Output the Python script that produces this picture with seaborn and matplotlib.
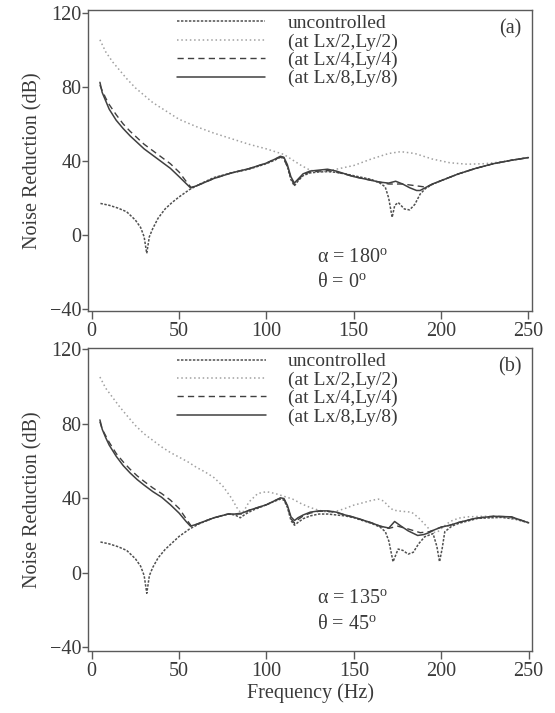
import numpy as np
import pandas as pd
import matplotlib
matplotlib.use("Agg")
import matplotlib.pyplot as plt
import seaborn as sns

# ---------------- data ----------------
labels = ["uncontrolled", "(at Lx/2,Ly/2)", "(at Lx/4,Ly/4)", "(at Lx/8,Ly/8)"]
xticks = [0, 50, 100, 150, 200, 250]
yticks = [-40, 0, 40, 80, 120]

# panel (a)  alpha=180, theta=0
a_unc_f = [5, 10, 15, 20, 25, 28, 30, 31.5, 33, 35, 38, 42, 46, 50, 56, 62, 70, 80, 90, 100, 105, 108, 110, 112, 114,
           116, 118, 121, 125, 130, 135, 140, 145, 150, 155, 160, 165, 168, 170, 172, 173.5, 175.5, 179, 182, 185,
           188, 191, 195, 200, 210, 220, 230, 240, 250]
a_unc_v = [17, 16, 14.5, 12.5, 8, 4, -1, -10, -1, 3.5, 9, 14, 17.5, 20.5, 24.5, 27.5, 31, 33.5, 35.5, 38.5, 40.5, 42,
           41.5, 37, 30, 26.5, 29, 32, 33.5, 34, 34.2, 33.8, 33, 32, 31, 30, 28, 26, 20, 9.5, 16, 17.5, 14, 13.5, 16.5,
           22, 25, 27.3, 29.3, 33, 36, 38.5, 40.3, 41.8]
a_l2_f = [4.7, 8, 12, 16, 20, 25, 30, 35, 40, 45, 50, 60, 70, 80, 90, 100, 110, 115, 120, 125, 130, 135, 140, 150, 160,
          170, 177, 185, 195, 205, 215, 225, 235, 245, 250]
a_l2_v = [105.5, 99, 93.5, 89, 84.5, 79.5, 75.5, 71.5, 68.5, 65.5, 62.5, 58.5, 55, 52, 49, 46.5, 43.5, 40.5, 37.5, 35,
          34, 34.5, 35.5, 37.5, 41, 44, 45, 44, 41, 39, 38.2, 38.5, 39.5, 41, 41.8]
a_l4_f = [4.7, 6, 8, 10, 14, 18, 22, 26, 30, 35, 40, 45, 50, 54, 57, 60, 65, 70, 80, 90, 100, 105, 108, 110, 112, 114,
          116, 118, 121, 125, 130, 135, 140, 145, 150, 155, 160, 165, 170, 174, 178, 182, 186, 190, 193, 196, 200,
          210, 220, 230, 240, 250]
a_l4_v = [81, 78, 74, 70.5, 65, 60, 56, 52.5, 49, 45.5, 42, 38.5, 34, 29, 25.5, 26.5, 28.5, 30.5, 33.5, 35.8, 38.8, 41,
          42, 41, 37, 31, 27, 29.5, 32.5, 34, 34.5, 34.8, 34, 32.8, 31.5, 30.5, 29.5, 28.5, 27.5, 27.5, 27.5, 27,
          26.5, 26, 26.5, 27.8, 29.3, 33, 36, 38.5, 40.3, 41.8]
a_l8_f = [4.7, 6, 8, 10, 14, 18, 22, 26, 30, 35, 40, 45, 50, 54, 56.5, 60, 65, 70, 80, 90, 100, 105, 108, 110, 112,
          114, 116, 118, 121, 125, 130, 135, 140, 145, 150, 155, 160, 165, 170, 174, 178, 182, 186, 188, 191, 195,
          200, 210, 220, 230, 240, 250]
a_l8_v = [82.5, 77, 72.5, 68, 62, 57.5, 53.5, 50, 46.5, 43, 39.5, 36, 31.5, 27.8, 25.5, 26.5, 28.5, 30.5, 33.5, 35.8,
          38.8, 41, 42.5, 42, 38, 31.5, 28, 30, 33, 34.5, 35, 35.5, 34.5, 33, 31.5, 30.5, 29.5, 28.5, 28, 29, 27.5,
          25.5, 24, 24, 25.5, 27.5, 29.3, 33, 36, 38.5, 40.3, 41.8]

# panel (b)  alpha=135, theta=45
b_unc_f = [5, 10, 15, 20, 25, 28, 30, 31.5, 33, 35, 38, 42, 46, 50, 56, 62, 70, 78, 82, 85, 88, 92, 100, 105, 108,
           110, 112, 114, 116, 118, 121, 125, 130, 135, 140, 145, 150, 155, 160, 165, 168, 170, 172.4, 175.3, 178,
           181, 184, 187, 190.5, 195.3, 197.5, 199, 200.5, 202, 206, 210, 221, 234.5, 242, 250]
b_unc_v = [16.5, 15.5, 14, 12, 7.5, 3.5, -1.5, -11, -1.5, 3, 8, 12.5, 16, 19.5, 23.5, 26.5, 29.5, 31.5, 31, 29.5, 31.5,
           33.5, 36.5, 38.5, 39.5, 39, 35, 28, 25.5, 27, 29, 30.5, 31.5, 31.5, 31, 30.5, 29.5, 28, 26.5, 24.5, 22,
           17, 5.9, 12.7, 12, 10, 11, 15.5, 19.3, 21, 14, 5.9, 13, 22, 25, 26.5, 29.2, 29.7, 28.8, 26.8]
b_l2_f = [4.7, 8, 12, 16, 20, 25, 30, 35, 40, 45, 50, 55, 60, 65, 70, 75, 80, 83, 85, 87, 90, 95, 100, 105, 110, 115,
          120, 125, 130, 135, 140, 145, 150, 155, 160, 164, 167, 170, 172.5, 177, 183, 187, 191, 195, 198, 201, 205,
          210, 215, 225, 235, 240, 245, 250]
b_l2_v = [105, 99, 94, 89, 84.5, 79, 74.5, 71, 67.5, 64.5, 62, 59.5, 56.5, 54, 51, 46.5, 40, 35, 32.5, 33, 38, 42.5,
          43.5, 42.5, 41, 39.5, 37, 35, 33.5, 32.5, 33, 34.5, 36.3, 37.5, 38.8, 39.5, 38.5, 35.5, 33.6, 33, 32.5,
          29.5, 25.5, 21.5, 22, 24.5, 27.5, 29.3, 30, 30.3, 30, 29.3, 28.3, 26.8]
b_l4_f = [4.7, 6, 8, 10, 14, 18, 22, 26, 30, 35, 40, 45, 50, 54, 57, 60, 65, 70, 78, 82, 86, 90, 100, 105, 108, 110,
          112, 114, 116, 118, 121, 125, 130, 135, 140, 145, 150, 155, 160, 165, 170, 175, 181, 188, 193, 196, 200,
          205, 210, 220, 230, 240, 250]
b_l4_v = [81, 77, 73.5, 70, 64, 59.5, 55.5, 52, 49, 45.5, 42.5, 39, 34.5, 29, 25, 26, 27.8, 29.5, 31.5, 31.5, 31.5,
          33.5, 36.5, 38.8, 40, 39.5, 35.5, 29, 26.5, 28.5, 30.5, 32, 33, 33, 32.3, 31, 29.8, 28.3, 26.8, 25, 23.8,
          25, 23.5, 21.5, 22, 23, 24.5, 25.5, 27, 29.3, 30.3, 30, 26.8]
b_l8_f = [4.7, 6, 8, 10, 14, 18, 22, 26, 30, 35, 40, 45, 50, 54, 56.5, 60, 65, 70, 78, 82, 86, 90, 100, 105, 108, 110,
          112, 114, 116, 118, 121, 125, 130, 135, 140, 145, 150, 155, 160, 165, 170, 173.3, 177, 181, 186.5, 190,
          193, 196, 200, 205, 210, 220, 230, 240, 250]
b_l8_v = [82, 77, 72.5, 68.5, 62.5, 57.5, 53.5, 50, 47, 43.5, 40.5, 36.5, 32, 27.5, 25, 26, 27.8, 29.5, 31.5, 31.5,
          32, 33.5, 36.5, 38.8, 40.2, 39.8, 36, 30, 28, 29.5, 31, 32.5, 33.2, 33.2, 32.5, 31, 29.8, 28.3, 26.8, 25,
          24, 27.5, 25, 22.5, 20, 20.5, 21.5, 23, 24.5, 25.5, 27, 29.3, 30.3, 30, 26.8]

panels = [
    ("(a)", "180", "0",
     [(a_unc_f, a_unc_v), (a_l2_f, a_l2_v), (a_l4_f, a_l4_v), (a_l8_f, a_l8_v)]),
    ("(b)", "135", "45",
     [(b_unc_f, b_unc_v), (b_l2_f, b_l2_v), (b_l4_f, b_l4_v), (b_l8_f, b_l8_v)]),
]

# ---------------- style ----------------
sns.set_style("ticks")
plt.rcParams["font.family"] = ["Liberation Serif", "DejaVu Serif"]
plt.rcParams["mathtext.fontset"] = "custom"
plt.rcParams["mathtext.rm"] = "Liberation Serif"
plt.rcParams["mathtext.it"] = "Liberation Serif:italic"

FS = 14.5
LFS = 14.0
TXT = "#3a3a3a"
AXC = "#5a5a5a"
styles = [
    dict(color="#505050", linestyle=(0, (1.6, 1.0)), linewidth=1.1),
    dict(color="#a0a0a0", linestyle=(0, (1.0, 1.8)), linewidth=1.1),
    dict(color="#404040", linestyle=(0, (4.5, 3.0)), linewidth=1.0),
    dict(color="#404040", linestyle="-", linewidth=1.1),
]

W, H = 555, 713
fig = plt.figure(figsize=(W / 100, H / 100), dpi=100)
fig.patch.set_facecolor("white")

boxes = [
    (88.3 / W, 1 - 310.5 / H, 443.4 / W, 300.5 / H),
    (88.3 / W, 1 - 650.5 / H, 443.7 / W, 302.2 / H),
]
ylims = [(-40.9, 121.6), (-41.7, 120.4)]

for i, (tag, alpha, theta, series) in enumerate(panels):
    ax = fig.add_axes(boxes[i])
    for (f, v), lab, st in zip(series, labels, styles):
        df = pd.DataFrame({"f": f, "v": v})
        sns.lineplot(data=df, x="f", y="v", ax=ax, label=lab, estimator=None, sort=False, **st)
    ax.set_xlim(-1.95, 251.9)
    ax.set_ylim(*ylims[i])
    ax.set_xticks(xticks)
    ax.set_yticks(yticks)
    ax.set_yticklabels([str(t).replace("-", "\u2212") for t in yticks])
    ax.tick_params(axis="both", labelsize=FS, colors=AXC, labelcolor=TXT, width=1.0)
    ax.tick_params(axis="x", length=6, pad=2)
    ax.tick_params(axis="y", length=4, pad=1)
    for sp in ax.spines.values():
        sp.set_visible(True)
        sp.set_color(AXC)
        sp.set_linewidth(1.0)
    ax.set_ylabel("Noise Reduction (dB)", fontsize=FS, color=TXT, labelpad=5)
    if i == 1:
        ax.set_xlabel("Frequency (Hz)", fontsize=FS, color=TXT, labelpad=2)
    else:
        ax.set_xlabel("")
    leg = ax.legend(loc="upper left", bbox_to_anchor=(0.20, 0.985), frameon=False,
                    fontsize=LFS, handlelength=4.55, handletextpad=1.15, labelspacing=0.04,
                    borderpad=0.0, borderaxespad=0.0)
    for t in leg.get_texts():
        t.set_color(TXT)
    ax.text(0.977, 0.97, tag, transform=ax.transAxes, ha="right", va="top", fontsize=FS, color=TXT)
    ax.text(129, -12 if i == 0 else -14, "\u03b1 = " + alpha + r"$^{\mathrm{o}}$",
            ha="left", va="center", fontsize=FS, color=TXT)
    ax.text(129, -26 if i == 0 else -27.5, "\u03b8 = " + theta + r"$^{\mathrm{o}}$",
            ha="left", va="center", fontsize=FS, color=TXT)

fig.savefig("out.png", dpi=100, facecolor="white")
